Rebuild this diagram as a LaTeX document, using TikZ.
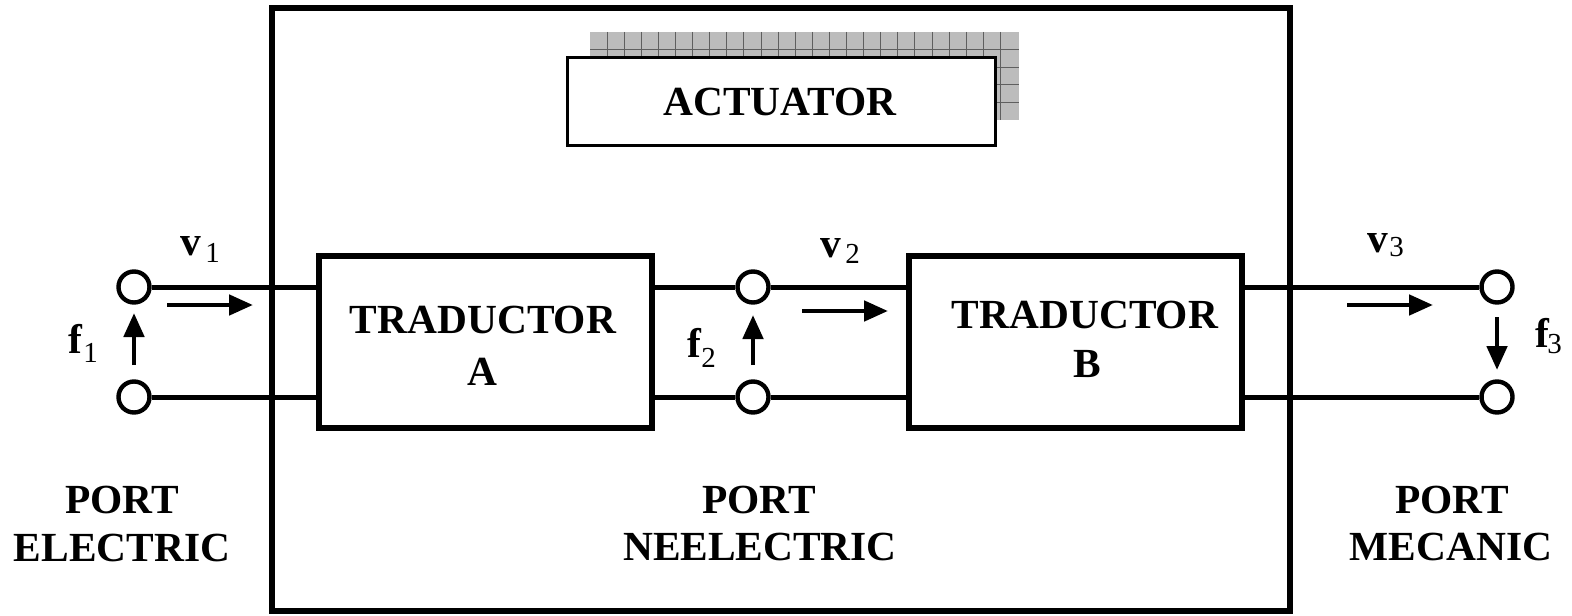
\documentclass[tikz,border=0pt]{standalone}
\usepackage{fontspec}
\setmainfont{Liberation Serif}
\usetikzlibrary{arrows.meta}
\definecolor{shadowgray}{RGB}{188,188,188}
\definecolor{gridgray}{RGB}{95,95,95}
\begin{document}
\begin{tikzpicture}[x=0.5pt,y=-0.5pt,
  wire/.style={line width=2.5pt},
  blk/.style={draw, line width=2.6pt, inner sep=0pt, fill=white},
  port/.style={circle, draw, fill=white, line width=2.2pt, minimum size=15.5pt, inner sep=0pt},
  flow/.style={line width=2.4pt, -{Triangle[length=12pt,width=10pt]}},
  lbl/.style={font=\fontsize{20.7}{24}\selectfont\bfseries, inner sep=0pt},
  sublbl/.style={font=\fontsize{14.5}{16}\selectfont, inner sep=0pt}]
\useasboundingbox (0,0) rectangle (1572,615);

% outer actuator frame
\node[draw, line width=2.6pt, minimum width=509pt, minimum height=301.5pt, inner sep=0pt] (frame) at (781,309.5) {};

% shadow grid behind ACTUATOR
\fill[shadowgray] (590,32) rectangle (1019,120);
\foreach \k in {1,...,24} \draw[gridgray, line width=0.5pt] (590+17.1*\k,32) -- (590+17.1*\k,120);
\foreach \k in {1,...,4} \draw[gridgray, line width=0.5pt] (590,32+17.6*\k) -- (1019,32+17.6*\k);

\node[blk, line width=1.5pt, minimum width=214pt, minimum height=43.5pt] (act) at (781,101.5) {};
\node[lbl, anchor=base] (acttxt) at (780,115) {ACTUATOR};

% transducers
\node[blk, minimum width=166.5pt, minimum height=86pt] (boxA) at (485.5,342) {};
\node[blk, minimum width=166.5pt, minimum height=86pt] (boxB) at (1075.5,342) {};
\node[lbl, anchor=base] (ta1) at (483,333) {TRADUCTOR};
\node[lbl, anchor=base] (ta2) at (482,385) {A};
\node[lbl, anchor=base] (tb1) at (1085,328) {TRADUCTOR};
\node[lbl, anchor=base] (tb2) at (1087,377) {B};

% ports
\node[port] (p1t) at (134,287) {};
\node[port] (p1b) at (134,397) {};
\node[port] (p2t) at (753,287) {};
\node[port] (p2b) at (753,397) {};
\node[port] (p3t) at (1497,287) {};
\node[port] (p3b) at (1497,397) {};

% wires
\draw[wire] (p1t) -- (p1t -| boxA.west);
\draw[wire] (p1b) -- (p1b -| boxA.west);
\draw[wire] (p2t -| boxA.east) -- (p2t);
\draw[wire] (p2t) -- (p2t -| boxB.west);
\draw[wire] (p2b -| boxA.east) -- (p2b);
\draw[wire] (p2b) -- (p2b -| boxB.west);
\draw[wire] (p3t -| boxB.east) -- (p3t);
\draw[wire] (p3b -| boxB.east) -- (p3b);

% flow arrows
\coordinate (v1s) at (167,305); \coordinate (v1e) at (253,305);
\coordinate (f1s) at (134,365); \coordinate (f1e) at (134,313);
\coordinate (v2s) at (802,311); \coordinate (v2e) at (888,311);
\coordinate (f2s) at (753,365); \coordinate (f2e) at (753,315);
\coordinate (v3s) at (1347,305); \coordinate (v3e) at (1433,305);
\coordinate (f3s) at (1497,317); \coordinate (f3e) at (1497,370);
\draw[flow] (v1s) -- (v1e);
\draw[flow] (f1s) -- (f1e);
\draw[flow] (v2s) -- (v2e);
\draw[flow] (f2s) -- (f2e);
\draw[flow] (v3s) -- (v3e);
\draw[flow] (f3s) -- (f3e);

% variable labels
\node[lbl, anchor=base west] (lv1) at (180,255) {v};
\node[sublbl, anchor=base west] (lv1s) at (205,262) {1};
\node[lbl, anchor=base west] (lf1) at (68,353) {f};
\node[sublbl, anchor=base west] (lf1s) at (83,362) {1};
\node[lbl, anchor=base west] (lv2) at (820,257) {v};
\node[sublbl, anchor=base west] (lv2s) at (845,263) {2};
\node[lbl, anchor=base west] (lf2) at (687,357) {f};
\node[sublbl, anchor=base west] (lf2s) at (701,367) {2};
\node[lbl, anchor=base west] (lv3) at (1367,252) {v};
\node[sublbl, anchor=base west] (lv3s) at (1389,256) {3};
\node[lbl, anchor=base west] (lf3) at (1535,347) {f};
\node[sublbl, anchor=base west] (lf3s) at (1547,353) {3};

% port names
\node[lbl, anchor=base] (pe1) at (122,513) {PORT};
\node[lbl, anchor=base] (pe2) at (122,561) {ELECTRIC};
\node[lbl, anchor=base] (pn1) at (759,513) {PORT};
\node[lbl, anchor=base] (pn2) at (760,560) {NEELECTRIC};
\node[lbl, anchor=base] (pm1) at (1452,513) {PORT};
\node[lbl, anchor=base] (pm2) at (1451,560) {MECANIC};
\end{tikzpicture}
\end{document}
